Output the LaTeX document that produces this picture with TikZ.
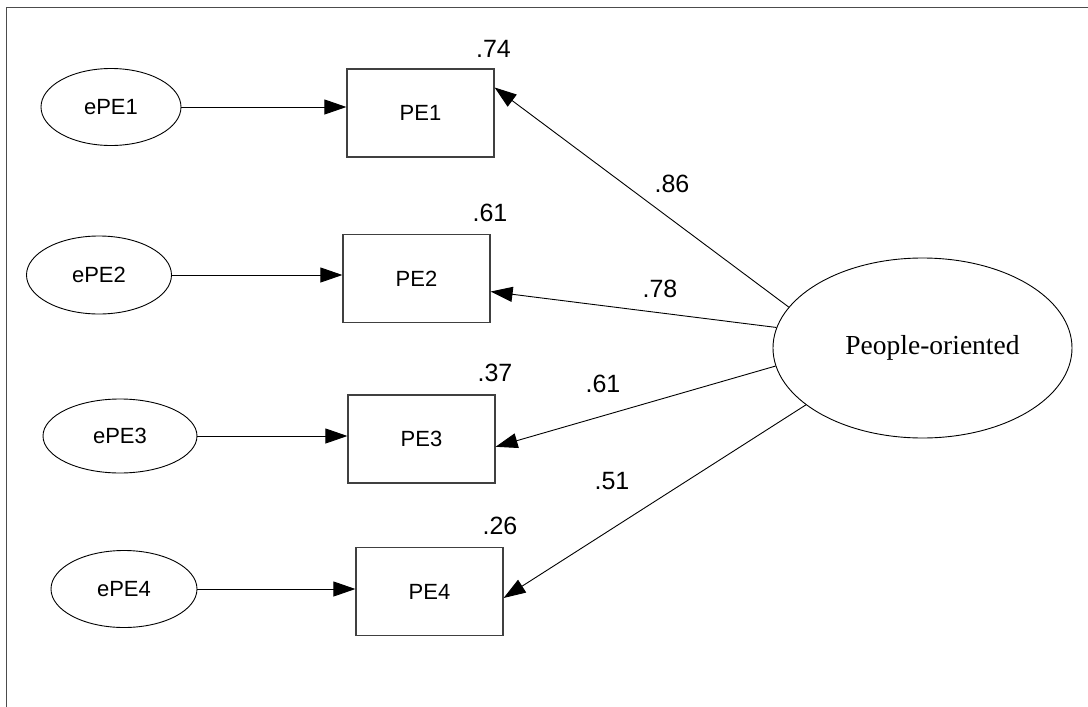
\documentclass[tikz,border=0pt]{standalone}
\usepackage{fontspec}
\setmainfont{Liberation Sans}
\newfontfamily\latentface{Liberation Serif}
\usetikzlibrary{arrows.meta,shapes.geometric}
\begin{document}
\begin{tikzpicture}[x=1pt,y=-1pt,
  obs/.style={draw=black!75, line width=1.2pt, minimum width=147pt, minimum height=88pt,
    inner sep=0pt, font=\fontsize{22}{26}\selectfont},
  err/.style={draw, ellipse, line width=0.9pt, inner sep=0pt, font=\fontsize{22}{26}\selectfont},
  lat/.style={draw, ellipse, line width=0.9pt, inner sep=0pt, minimum width=299pt,
    minimum height=180pt, font=\latentface\fontsize{27.5}{32}\selectfont},
  pathline/.style={line width=0.9pt, -{Triangle[length=22pt,width=15pt]}},
  coef/.style={anchor=base, inner sep=0pt, font=\fontsize{25}{30}\selectfont}
]
\useasboundingbox (0,0) rectangle (1088,707);
% frame
\draw[line width=1pt, black!70] (6.5,707) -- (6.5,7.5) -- (1088,7.5);

% error terms
\node[err, minimum width=140pt, minimum height=77pt] (epe1) at (111,107) {ePE1};
\node[err, minimum width=145pt, minimum height=78pt] (epe2) at (99,275) {ePE2};
\node[err, minimum width=154pt, minimum height=74pt] (epe3) at (120,436) {ePE3};
\node[err, minimum width=146pt, minimum height=77pt] (epe4) at (124,589) {ePE4};

% indicators
\node[obs] (pe1) at (420.5,113) {PE1};
\node[obs] (pe2) at (416.5,278.5) {PE2};
\node[obs] (pe3) at (421.5,439) {PE3};
\node[obs] (pe4) at (429.5,591.5) {PE4};

% latent factor
\node[lat] (po) at (922.5,348) {\hspace*{20pt}People-oriented};

% error paths
\draw[pathline] (epe1) -- (epe1 -| pe1.west);
\draw[pathline] (epe2) -- (epe2 -| pe2.west);
\draw[pathline] (epe3) -- (epe3 -| pe3.west);
\draw[pathline] (epe4) -- (epe4 -| pe4.west);

% loadings
\draw[pathline] (po.163) -- (pe1.19);
\draw[pathline] (po.172.6) -- (pe2.-10);
\draw[pathline] (po.187.8) -- (pe3.-6);
\draw[pathline] (po.206.6) -- (pe4.-5);

% squared multiple correlations
\node[coef] (r1) at (493.5,57) {.74};
\node[coef] (r2) at (490,221) {.61};
\node[coef] (r3) at (495,381) {.37};
\node[coef] (r4) at (500,534) {.26};

% standardized loadings
\node[coef] (l1) at (672,192) {.86};
\node[coef] (l2) at (660,297) {.78};
\node[coef] (l3) at (603,392) {.61};
\node[coef] (l4) at (612,489) {.51};
\end{tikzpicture}
\end{document}
